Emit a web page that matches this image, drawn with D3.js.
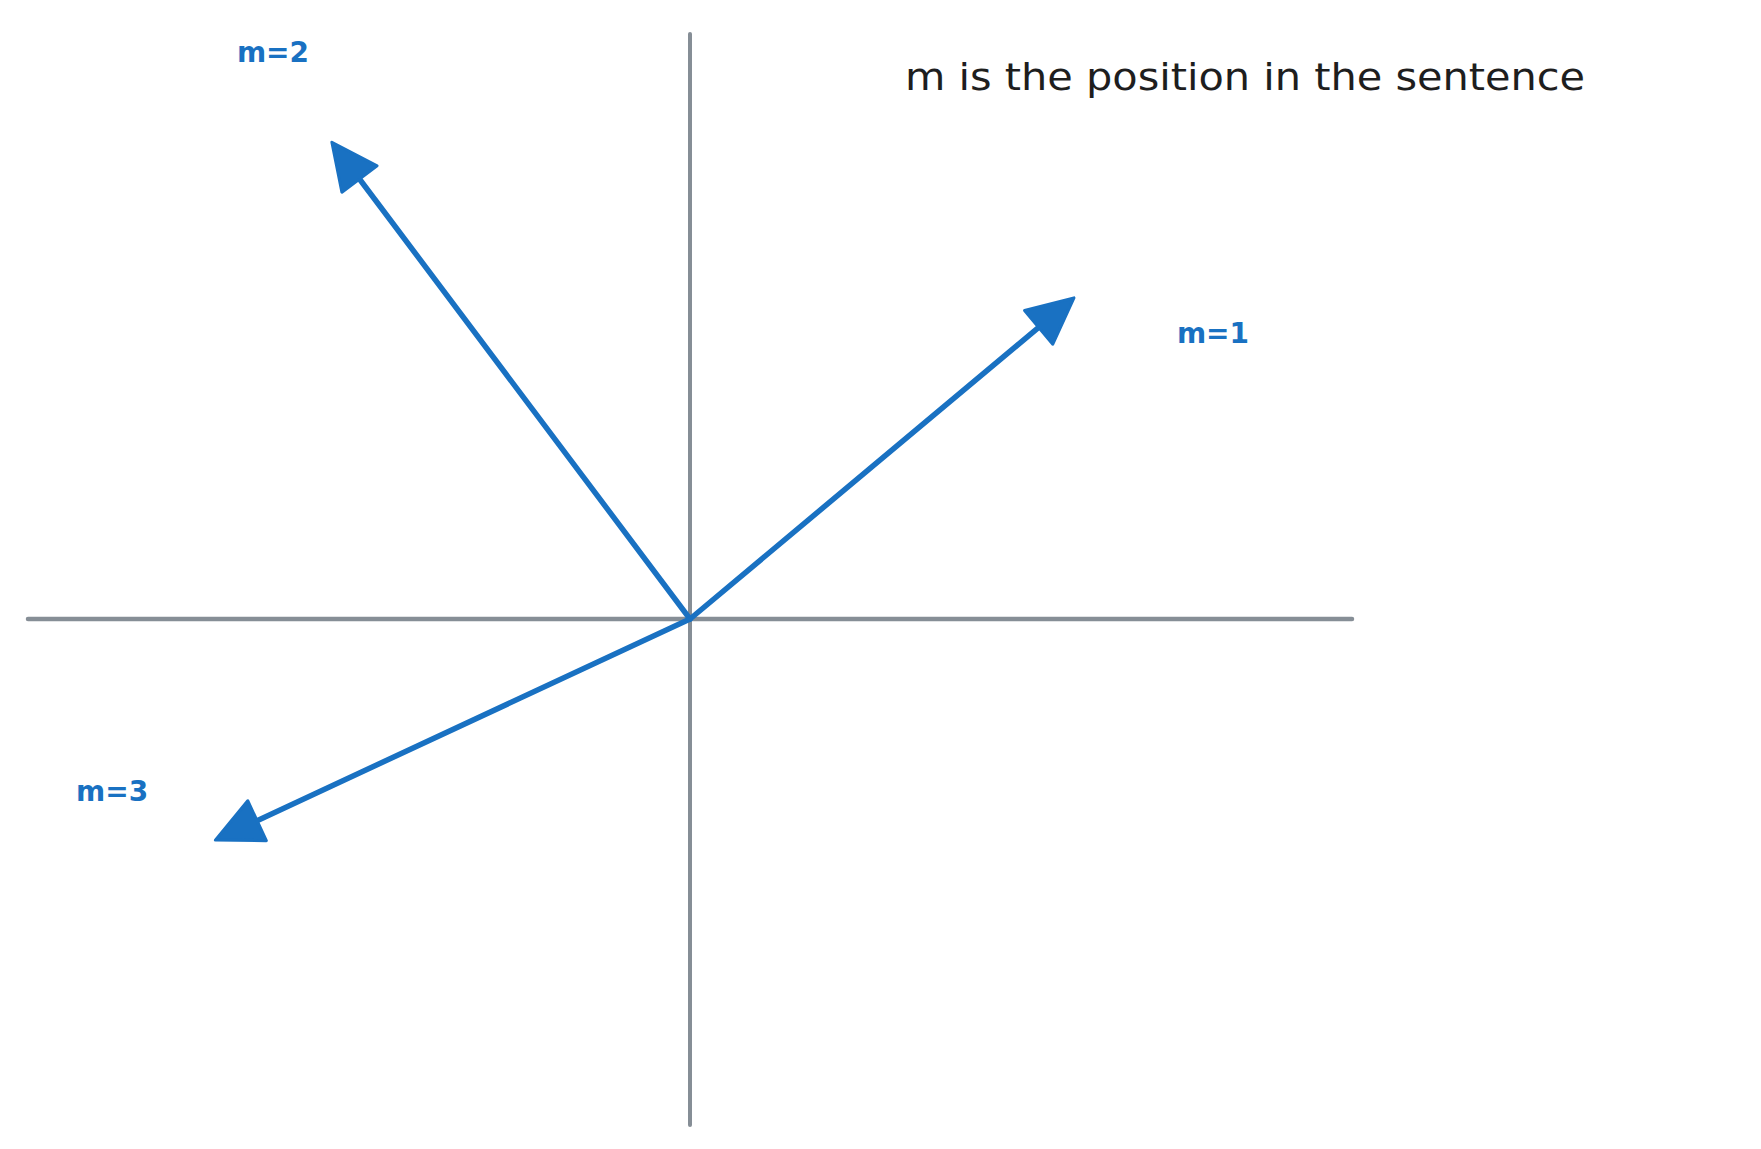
<!DOCTYPE html>
<html><head><meta charset="utf-8">
<script src="https://cdn.jsdelivr.net/npm/d3@7"></script>
<style>body{margin:0;background:#fff}</style></head>
<body><svg id="c" width="1761" height="1149"></svg>
<script>
const labels = ["m=1","m=2","m=3"];
const vx = [5.8, -5.41, -7.17];
const vy = [5.49, 8.15, -3.78];
const labelX = [7.9, -6.3, -8.73];
const labelY = [4.85, 9.65, -2.97];
const title = "m is the position in the sentence";

const svg = d3.select("#c");
const x = d3.scaleLinear().domain([-10, 10]).range([28, 1352]);
const y = d3.scaleLinear().domain([-8.65, 10]).range([1125, 34]);
const blue = "#1971c2", gray = "#868e96";

svg.append("line").attr("x1", x(-10)).attr("x2", x(10)).attr("y1", y(0)).attr("y2", y(0))
  .attr("stroke", gray).attr("stroke-width", 4.5).attr("stroke-linecap", "round");
svg.append("line").attr("x1", x(0)).attr("x2", x(0)).attr("y1", y(10)).attr("y2", y(-8.65))
  .attr("stroke", gray).attr("stroke-width", 4).attr("stroke-linecap", "round");

vx.forEach((v, i) => {
  const x0 = x(0), y0 = y(0), x1 = x(v), y1 = y(vy[i]);
  const a = Math.atan2(y1 - y0, x1 - x0), L = 46, W = 22;
  const bx = x1 - L * Math.cos(a), by = y1 - L * Math.sin(a);
  svg.append("line").attr("x1", x0).attr("y1", y0).attr("x2", bx).attr("y2", by)
    .attr("stroke", blue).attr("stroke-width", 5.5).attr("stroke-linecap", "round");
  const px = -Math.sin(a), py = Math.cos(a);
  svg.append("path").attr("d", `M${x1},${y1}L${bx + px * W},${by + py * W}L${bx - px * W},${by - py * W}Z`)
    .attr("fill", blue).attr("stroke", blue).attr("stroke-width", 3).attr("stroke-linejoin", "round");
  svg.append("text").attr("x", x(labelX[i])).attr("y", y(labelY[i])).attr("text-anchor", "middle")
    .attr("dominant-baseline", "middle").attr("fill", blue).attr("font-weight", "bold")
    .attr("font-family", "'DejaVu Sans', sans-serif").attr("font-size", 28).text(labels[i]);
});

svg.append("text").attr("x", 905).attr("y", 79).attr("dominant-baseline", "middle")
  .attr("fill", "#1e1e1e").attr("font-family", "'DejaVu Sans', sans-serif").attr("font-size", 38)
  .attr("textLength", 680).attr("lengthAdjust", "spacingAndGlyphs").text(title);
</script></body></html>
